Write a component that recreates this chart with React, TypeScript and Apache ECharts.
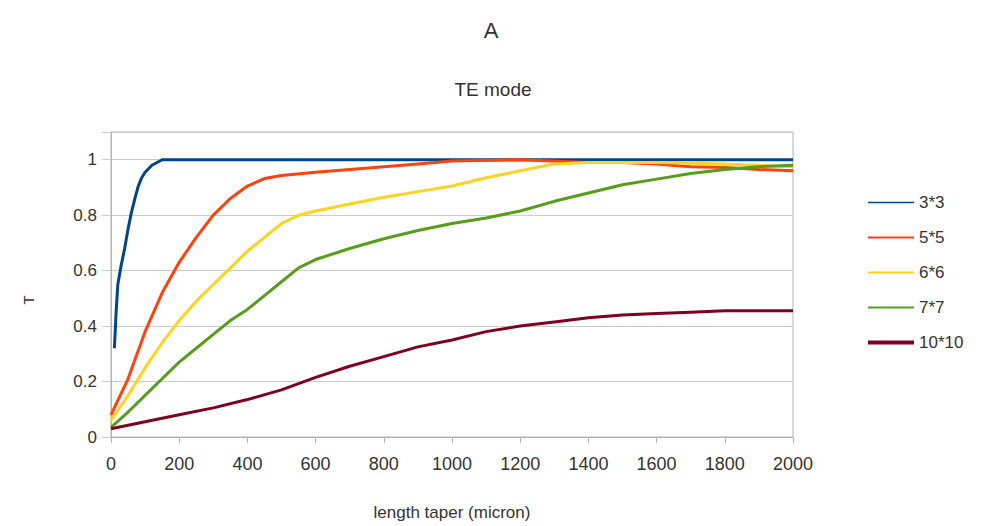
import React, { useEffect, useRef } from "react";
import * as echarts from "echarts";

const seriesNames = ["3*3", "5*5", "6*6", "7*7", "10*10"];
const seriesColors = ["#004586", "#ff420e", "#ffd320", "#579d1c", "#7e0021"];

const s3x3: number[][] = [
  [10, 0.32], [15, 0.45], [20, 0.55], [30, 0.62], [40, 0.68], [50, 0.75], [60, 0.81],
  [70, 0.86], [80, 0.905], [90, 0.935], [100, 0.955], [120, 0.98], [150, 1.0], [2000, 1.0],
];
const s5x5: number[][] = [
  [0, 0.08], [50, 0.21], [100, 0.38], [150, 0.52], [200, 0.63], [250, 0.72], [300, 0.8],
  [350, 0.86], [400, 0.905], [450, 0.932], [500, 0.943], [600, 0.955], [700, 0.965],
  [800, 0.975], [900, 0.985], [1000, 0.995], [1200, 1.0], [1400, 0.99], [1500, 0.99],
  [1600, 0.985], [1700, 0.975], [1800, 0.972], [1900, 0.965], [2000, 0.96],
];
const s6x6: number[][] = [
  [0, 0.06], [50, 0.15], [100, 0.25], [150, 0.34], [200, 0.42], [250, 0.49], [300, 0.55],
  [350, 0.61], [400, 0.67], [450, 0.72], [500, 0.77], [550, 0.8], [600, 0.815], [700, 0.84],
  [800, 0.865], [900, 0.885], [1000, 0.905], [1100, 0.935], [1200, 0.96], [1300, 0.985],
  [1400, 0.99], [1600, 0.99], [1800, 0.985], [2000, 0.975],
];
const s7x7: number[][] = [
  [0, 0.035], [50, 0.09], [100, 0.15], [150, 0.21], [200, 0.27], [250, 0.32], [300, 0.37],
  [350, 0.42], [400, 0.46], [450, 0.51], [500, 0.56], [550, 0.61], [600, 0.64], [700, 0.68],
  [800, 0.715], [900, 0.745], [1000, 0.77], [1100, 0.79], [1200, 0.815], [1300, 0.85],
  [1400, 0.88], [1500, 0.91], [1600, 0.93], [1700, 0.95], [1800, 0.965], [1900, 0.975],
  [2000, 0.98],
];
const s10x10: number[][] = [
  [0, 0.03], [100, 0.055], [200, 0.08], [300, 0.105], [400, 0.135], [500, 0.17], [600, 0.215],
  [700, 0.255], [800, 0.29], [900, 0.325], [1000, 0.35], [1100, 0.38], [1200, 0.4],
  [1300, 0.415], [1400, 0.43], [1500, 0.44], [1600, 0.445], [1700, 0.45], [1800, 0.455],
  [1900, 0.455], [2000, 0.455],
];
const allSeries = [s3x3, s5x5, s6x6, s7x7, s10x10];
const legendLineWidths = [1.5, 2, 2, 2, 4];

const xTicks = { min: 0, max: 2000, interval: 200 };
const yTicks = { min: 0, max: 1.1, interval: 0.2 };

const FONT = "'Liberation Sans', Arial, sans-serif";
const TEXT = "#333333";

export default function App() {
  const ref = useRef<HTMLDivElement>(null);
  useEffect(() => {
    if (!ref.current) return;
    const chart = echarts.init(ref.current, undefined, { renderer: "svg" });
    chart.setOption({
      animation: false,
      backgroundColor: "#ffffff",
      textStyle: { fontFamily: FONT },
      title: [
        {
          text: "A",
          left: 491,
          textAlign: "center",
          top: 19,
          padding: 0,
          textStyle: { fontFamily: FONT, fontSize: 22, fontWeight: "normal", color: TEXT },
        },
        {
          text: "TE mode",
          left: 493,
          textAlign: "center",
          top: 80,
          padding: 0,
          textStyle: { fontFamily: FONT, fontSize: 19, fontWeight: "normal", color: TEXT },
        },
      ],
      graphic: [
        {
          type: "text",
          x: 28,
          y: 300,
          rotation: Math.PI / 2,
          style: {
            text: "T",
            fontFamily: FONT,
            fontSize: 15,
            fill: TEXT,
            align: "center",
            verticalAlign: "middle",
          },
        },
      ],
      legend: {
        orient: "vertical",
        left: 866,
        top: 194,
        padding: 0,
        itemWidth: 46,
        itemHeight: 14,
        itemGap: 18,
        itemStyle: { opacity: 0 },
        textStyle: { fontFamily: FONT, fontSize: 17, color: TEXT },
        data: seriesNames.map((n, i) => ({
          name: n,
          itemStyle: { opacity: 0 },
          lineStyle: { width: legendLineWidths[i], color: seriesColors[i] },
        })),
      },
      grid: {
        left: 111,
        right: 189,
        top: 132,
        bottom: 86,
        show: true,
        borderColor: "#b3b3b3",
        borderWidth: 1,
      },
      xAxis: {
        type: "value",
        min: xTicks.min,
        max: xTicks.max,
        interval: xTicks.interval,
        name: "length taper (micron)",
        nameLocation: "middle",
        nameGap: 67,
        nameTextStyle: { fontFamily: FONT, fontSize: 17, color: TEXT },
        axisLine: { show: true, lineStyle: { color: "#b3b3b3" } },
        axisTick: { show: true, length: 6, lineStyle: { color: "#b3b3b3" } },
        axisLabel: {
          fontFamily: FONT,
          fontSize: 18,
          color: TEXT,
          margin: 18,
          formatter: (v: number) => String(v),
        },
        splitLine: { show: false },
      },
      yAxis: {
        type: "value",
        min: yTicks.min,
        max: yTicks.max,
        interval: yTicks.interval,
        axisLine: { show: true, lineStyle: { color: "#b3b3b3" } },
        axisTick: { show: true, length: 9, lineStyle: { color: "#cccccc" } },
        axisLabel: {
          fontFamily: FONT,
          fontSize: 17,
          color: TEXT,
          margin: 14,
          formatter: (v: number) => (v > 1.0001 ? "" : String(Math.round(v * 10) / 10)),
        },
        splitLine: { show: true, lineStyle: { color: "#cccccc", width: 1 } },
      },
      series: allSeries.map((d, i) => ({
        name: seriesNames[i],
        type: "line",
        data: d,
        showSymbol: false,
        symbol: "none",
        color: seriesColors[i],
        lineStyle: { width: 3, color: seriesColors[i] },
      })),
    });
    return () => chart.dispose();
  }, []);
  return (
    <div
      ref={ref}
      style={{ position: "fixed", left: 0, top: 0, width: 982, height: 526 }}
    />
  );
}
